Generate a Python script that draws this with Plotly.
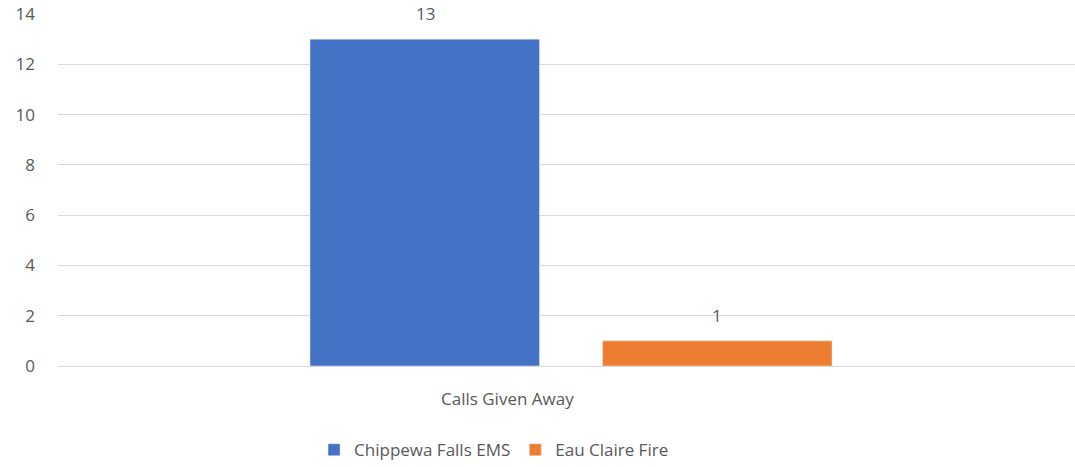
import plotly.graph_objects as go

categories = ["Calls Given Away"]
series_names = ["Chippewa Falls EMS", "Eau Claire Fire"]
series_values = [[13], [1]]
colors = ["#4472C4", "#ED7D31"]
y_ticks = [0, 2, 4, 6, 8, 10, 12, 14]

FONT = "Open Sans"
GREY = "#595959"
FS = 17
SLOT_SHIFT = 146  # pixel offset of each grouped bar from category centre

fig = go.Figure()
for name, vals, col in zip(series_names, series_values, colors):
    fig.add_trace(go.Bar(x=categories, y=vals, name=name, marker_color=col))

for i, vals in enumerate(series_values):
    shift = -SLOT_SHIFT if i == 0 else SLOT_SHIFT
    for c, v in zip(categories, vals):
        fig.add_annotation(x=c, y=v, text=str(v), showarrow=False,
                           xshift=shift, yshift=12, yanchor="bottom",
                           font=dict(family=FONT, size=FS, color=GREY))

# category label (drawn as annotation to match the reference's placement)
for c in categories:
    fig.add_annotation(x=0.438, xref="paper", y=0, yref="paper", yshift=-32,
                       yanchor="middle", text=c, showarrow=False,
                       font=dict(family=FONT, size=FS, color=GREY))

fig.update_layout(
    width=1084, height=467,
    margin=dict(l=58, r=0, t=14, b=101, autoexpand=False),
    paper_bgcolor="white", plot_bgcolor="white",
    barmode="group", bargap=0.4298, bargroupgap=0.2154,
    font=dict(family=FONT, size=FS, color=GREY),
    legend=dict(orientation="h", x=0.425, xanchor="center",
                yref="container", y=0.036, yanchor="middle",
                font=dict(family=FONT, size=FS, color=GREY), itemwidth=30,
                traceorder="normal"),
    showlegend=True,
)
fig.update_xaxes(range=[-0.5, 0.5], showgrid=False, showline=False, ticks="",
                 showticklabels=False)
fig.update_yaxes(range=[0, 14], tickvals=y_ticks, showgrid=True, gridcolor="#D9D9D9",
                 gridwidth=1, zeroline=True, zerolinecolor="#D9D9D9", zerolinewidth=1,
                 showline=False, ticks="", ticklabelstandoff=22,
                 tickfont=dict(family=FONT, size=FS, color=GREY))

fig.write_html("out.html", config={"displayModeBar": False},
               post_script="document.body.style.margin='0';document.body.style.overflow='hidden';")
